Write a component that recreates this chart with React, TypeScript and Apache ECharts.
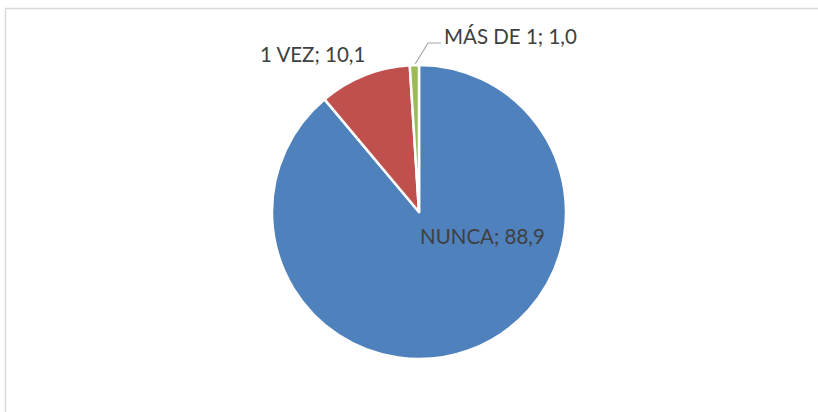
import React, { useEffect, useRef } from "react";
import * as echarts from "echarts";

const categories = ["NUNCA", "1 VEZ", "MÁS DE 1"];
const values = [88.9, 10.1, 1.0];
const colors = ["#4F81BD", "#C0504D", "#9BBB59"];

const fmt = (v: number) => v.toFixed(1).replace(".", ",");

export default function App() {
  const ref = useRef<HTMLDivElement>(null);
  useEffect(() => {
    if (!ref.current) return;
    const chart = echarts.init(ref.current, undefined, { renderer: "svg" });
    const labelPos = [
      { x: 420, y: 236, align: "left" },
      { x: 260, y: 54, align: "left" },
      { x: 444, y: 36, align: "left" },
    ];
    chart.setOption({
      animation: false,
      backgroundColor: "#ffffff",
      graphic: [
        {
          type: "polyline",
          shape: { points: [[5.5, 420], [5.5, 8.5], [830, 8.5]] },
          style: { stroke: "#d9d9d9", lineWidth: 1.5, fill: "none" },
          silent: true,
        },
      ],
      series: [
        {
          type: "pie",
          center: [419, 212],
          radius: [0, 147],
          startAngle: 90,
          clockwise: true,
          avoidLabelOverlap: false,
          itemStyle: { borderColor: "#ffffff", borderWidth: 2.5 },
          label: {
            show: true,
            color: "#404040",
            fontFamily: "Lato",
            fontSize: 20.5,
            formatter: (p: any) => `${p.name}; ${fmt(p.value)}`,
          },
          labelLine: {
            show: false,
            lineStyle: { color: "#a6a6a6", width: 1.2 },
          },
          labelLayout: (params: any) => {
            const lp = labelPos[params.dataIndex];
            const res: any = { x: lp.x, y: lp.y, align: lp.align, verticalAlign: "middle" };
            if (params.dataIndex === 2) {
              res.labelLinePoints = [[414, 66], [428, 43], [441, 43]];
            }
            return res;
          },
          data: categories.map((c, i) => ({
            name: c,
            value: values[i],
            itemStyle: { color: colors[i] },
            label: { position: i === 0 ? "inside" : "outside" },
            labelLine: { show: i === 2, length: 10, length2: 10 },
          })),
        },
      ],
    });
    return () => chart.dispose();
  }, []);
  return (
    <div
      ref={ref}
      style={{ position: "absolute", left: 0, top: 0, width: 818, height: 412 }}
    />
  );
}
